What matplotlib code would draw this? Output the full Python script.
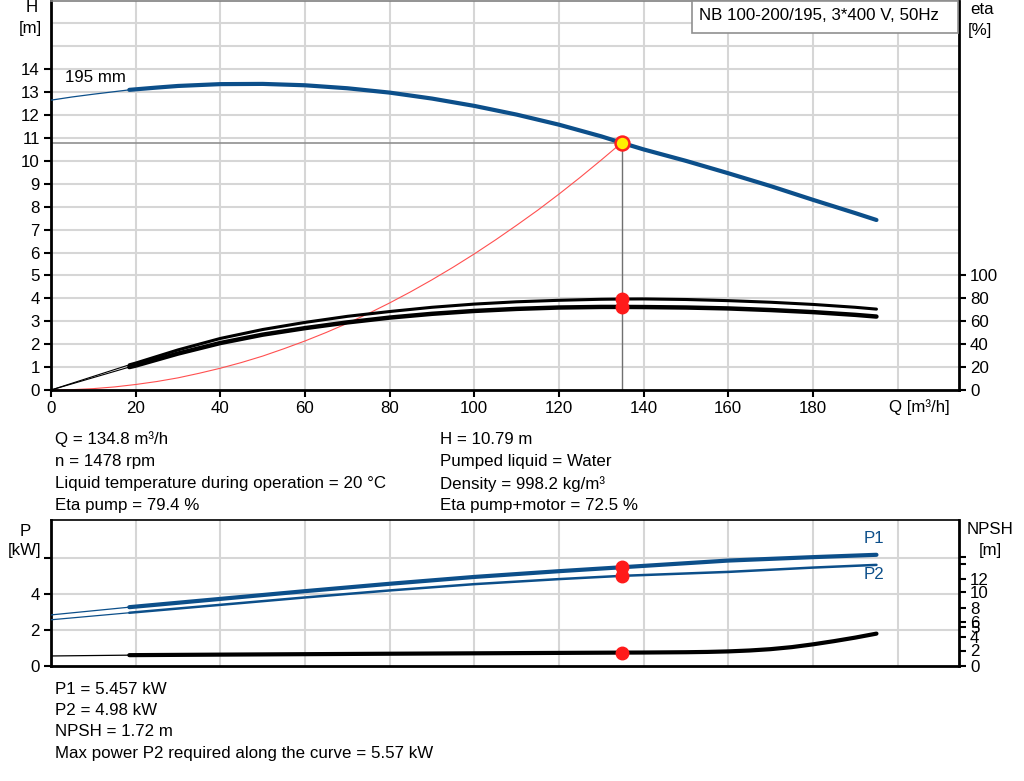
import matplotlib
matplotlib.use("Agg")
import matplotlib.pyplot as plt
import numpy as np

plt.rcParams['font.family'] = ['Liberation Sans', 'DejaVu Sans']

# ---------------- data ----------------
duty_q = 134.8
duty_h = 10.79
duty_eta_pump = 79.4
duty_eta_total = 72.5
duty_p1 = 5.457
duty_p2 = 4.98
duty_npsh = 1.72

# H curve (195 mm impeller)
h_q_thin = [0, 5, 10, 18.5]
h_thin = [12.65, 12.79, 12.91, 13.1]
h_q = [18.5, 25, 30, 40, 50, 60, 70, 80, 90, 100, 110, 120, 130, 134.8,
       140, 150, 160, 170, 180, 190, 195]
h_val = [13.1, 13.2, 13.27, 13.35, 13.36, 13.3, 13.17, 12.98, 12.72, 12.4,
         12.02, 11.58, 11.07, 10.79, 10.5, 10.0, 9.46, 8.9, 8.3, 7.72, 7.42]

# system curve
sys_q = [0, 5, 10, 15, 20, 25, 30, 35, 40, 45, 50, 55, 60, 65, 70, 75, 80, 85,
         90, 95, 100, 105, 110, 115, 120, 125, 130, 134.8]
sys_h = [0, 0.015, 0.06, 0.134, 0.24, 0.37, 0.53, 0.73, 0.95, 1.2, 1.48, 1.8,
         2.14, 2.51, 2.91, 3.34, 3.80, 4.29, 4.81, 5.36, 5.94, 6.55, 7.19, 7.85,
         8.55, 9.28, 10.04, 10.79]

# efficiencies [%]
eta_q_thin = [0, 18.5]
eta_pump_thin = [0, 22]
eta_tot_thin = [0, 20]
eta_q = [18.5, 20, 30, 40, 50, 60, 70, 80, 90, 100, 110, 120, 130, 134.8,
         140, 150, 160, 170, 180, 190, 195]
eta_pump = [22, 23.5, 35, 45, 52.8, 59, 64.3, 68.5, 72.2, 75, 77, 78.3, 79.2,
            79.4, 79.5, 79, 78, 76.6, 74.7, 72.2, 70.6]
eta_total = [20, 21.3, 31.8, 41, 48.3, 54, 59, 63.2, 66.5, 69, 70.8, 72,
             72.5, 72.5, 72.4, 72, 71.2, 69.8, 68, 65.6, 64.1]

# power [kW]
p_q_thin = [0, 18.5]
p1_thin = [2.81, 3.24]
p2_thin = [2.54, 2.93]
p_q = [18.5, 40, 60, 80, 100, 120, 134.8, 160, 180, 195]
p1_val = [3.24, 3.7, 4.13, 4.54, 4.92, 5.24, 5.457, 5.83, 6.02, 6.15]
p2_val = [2.93, 3.37, 3.78, 4.17, 4.52, 4.80, 4.98, 5.20, 5.44, 5.59]

# NPSH [m]
npsh_q_thin = [0, 18.5]
npsh_thin = [1.27, 1.38]
npsh_q = [18.5, 40, 80, 120, 134.8, 140, 150, 155, 160, 165, 170, 175, 180,
          185, 190, 195]
npsh_val = [1.38, 1.45, 1.57, 1.68, 1.72, 1.73, 1.77, 1.81, 1.88, 2.0, 2.18,
            2.45, 2.82, 3.25, 3.72, 4.25]

x_ticks = [0, 20, 40, 60, 80, 100, 120, 140, 160, 180]
h_ticks = list(range(0, 15))
eta_ticks = [0, 20, 40, 60, 80, 100]
p_ticks = [0, 2, 4, 6]
p_tick_labels = ['0', '2', '4', '']
npsh_tick_pos = [0, 2, 3.77, 5.07, 5.77, 7.64, 9.77, 11.56, 13.6, 14.5]
npsh_tick_labels = ['0', '2', '4', '5', '6', '8', '10', '12', '', '']

info_left = ["Q = 134.8 m\u00b3/h", "n = 1478 rpm",
             "Liquid temperature during operation = 20 \u00b0C", "Eta pump = 79.4 %"]
info_right = ["H = 10.79 m", "Pumped liquid = Water",
              "Density = 998.2 kg/m\u00b3", "Eta pump+motor = 72.5 %"]
info_bottom = ["P1 = 5.457 kW", "P2 = 4.98 kW", "NPSH = 1.72 m",
               "Max power P2 required along the curve = 5.57 kW"]
title = "NB 100-200/195, 3*400 V, 50Hz"

# ---------------- styling ----------------
W, H = 1024, 781
BLUE = '#0c4f8a'
GRID = '#d6d6d6'
FS = 12.2
QMAX = 214.5

fig = plt.figure(figsize=(W / 100, H / 100), dpi=100)

def fx(px):
    return px / W

def fy(py):
    return 1 - py / H

# ---------- top axes ----------
ax = fig.add_axes([fx(51), fy(390), fx(959) - fx(51), fy(0.5) - fy(390)])
ax.set_xlim(0, QMAX)
ax.set_ylim(0, 17)
for v in range(1, 17):
    ax.axhline(v, color=GRID, lw=1.5, zorder=0)
for v in range(20, 201, 20):
    ax.axvline(v, color=GRID, lw=1.5, zorder=0)

ax.plot(h_q_thin, h_thin, color=BLUE, lw=0.9, zorder=3)
ax.plot(h_q, h_val, color=BLUE, lw=3, solid_capstyle='round', zorder=3)
ax.plot(sys_q, sys_h, color='#ff5050', lw=0.8, zorder=2)
ax.plot([0, duty_q], [duty_h, duty_h], color='#909090', lw=1.2, zorder=2)
ax.plot([duty_q, duty_q], [0, duty_h], color='#707070', lw=1.0, zorder=2)
ax.plot([duty_q], [duty_h], 'o', ms=10, mfc='#ffee00', mec='#ff2020', mew=1.8, zorder=6)
ax.text(3.3, 13.65, "195 mm", fontsize=FS, ha='left', va='center')

ax.set_xticks(x_ticks)
ax.set_xticklabels([str(v) for v in x_ticks])
ax.set_yticks(h_ticks)
ax.tick_params(axis='both', direction='out', length=5, width=1.5, labelsize=FS, pad=3)
ax.tick_params(axis='x', pad=3)
for s in ['left', 'bottom']:
    ax.spines[s].set_linewidth(2)
ax.spines['top'].set_color('#808080')
ax.spines['top'].set_linewidth(1.2)
ax.spines['right'].set_visible(False)

ax2 = ax.twinx()
ax2.set_ylim(0, 340)
ax2.set_xlim(0, QMAX)
ax2.plot(eta_q_thin, eta_pump_thin, color='black', lw=0.8, zorder=3)
ax2.plot(eta_q_thin, eta_tot_thin, color='black', lw=0.8, zorder=3)
ax2.plot(eta_q, eta_pump, color='black', lw=2.2, solid_capstyle='round', zorder=3)
ax2.plot(eta_q, eta_total, color='black', lw=3.2, solid_capstyle='round', zorder=3)
ax2.plot([duty_q, duty_q], [duty_eta_pump, duty_eta_total], 'o', ms=9, color='#ff1a1a', zorder=6)
ax2.set_yticks(eta_ticks)
ax2.tick_params(axis='y', direction='out', length=5, width=1.5, labelsize=FS, pad=3)
ax2.spines['right'].set_linewidth(2)
for s in ['left', 'bottom', 'top']:
    ax2.spines[s].set_visible(False)

# x axis label at 200 position
ax.text(200 - 2, -0.4, "Q [m\u00b3/h]", fontsize=FS, ha='left', va='top')

fig.text(fx(32), fy(8), "H", fontsize=FS, ha='center', va='center')
fig.text(fx(30), fy(29), "[m]", fontsize=FS, ha='center', va='center')
fig.text(fx(982), fy(10), "eta", fontsize=FS, ha='center', va='center')
fig.text(fx(980), fy(30), "[%]", fontsize=FS, ha='center', va='center')

# title box
fig.patches.append(plt.Rectangle((fx(692), fy(33)), fx(958) - fx(692), fy(0.5) - fy(33),
                                 transform=fig.transFigure, facecolor='white',
                                 edgecolor='#909090', lw=1.2, zorder=10))
fig.text(fx(699), fy(15), title, fontsize=FS, ha='left', va='center', zorder=11)

# info text
for i, t in enumerate(info_left):
    fig.text(fx(55), fy(439 + i * 22.3), t, fontsize=FS, ha='left', va='center')
for i, t in enumerate(info_right):
    fig.text(fx(440), fy(439 + i * 22.3), t, fontsize=FS, ha='left', va='center')

# ---------- bottom axes ----------
bx = fig.add_axes([fx(51), fy(665.5), fx(959) - fx(51), fy(520) - fy(665.5)])
bx.set_xlim(0, QMAX)
bx.set_ylim(0, 145.5 / 18)
for v in [2, 4, 6]:
    bx.axhline(v, color=GRID, lw=1.5, zorder=0)
for v in range(20, 201, 20):
    bx.axvline(v, color=GRID, lw=1.5, zorder=0)
bx.plot(p_q_thin, p1_thin, color=BLUE, lw=0.9, zorder=3)
bx.plot(p_q_thin, p2_thin, color=BLUE, lw=0.9, zorder=3)
bx.plot(p_q, p1_val, color=BLUE, lw=3, solid_capstyle='round', zorder=3)
bx.plot(p_q, p2_val, color=BLUE, lw=1.8, solid_capstyle='round', zorder=3)
bx.plot([duty_q, duty_q], [duty_p1, duty_p2], 'o', ms=9, color='#ff1a1a', zorder=6)
bx.text(194.5, 7.08, "P1", color=BLUE, fontsize=FS, ha='center', va='center')
bx.text(194.5, 5.03, "P2", color=BLUE, fontsize=FS, ha='center', va='center')
bx.set_xticks(x_ticks)
bx.set_xticklabels([])
bx.tick_params(axis='x', length=0)
bx.set_yticks(p_ticks)
bx.set_yticklabels(p_tick_labels)
bx.tick_params(axis='y', direction='out', length=5, width=1.5, labelsize=FS, pad=3)
bx.spines['left'].set_linewidth(2)
bx.spines['bottom'].set_linewidth(2)
bx.spines['top'].set_linewidth(1.2)
bx.spines['right'].set_visible(False)

bx2 = bx.twinx()
bx2.set_xlim(0, QMAX)
bx2.set_ylim(0, 145.5 / 7.5)
bx2.plot(npsh_q_thin, npsh_thin, color='black', lw=0.9, zorder=3)
bx2.plot(npsh_q, npsh_val, color='black', lw=3, solid_capstyle='round', zorder=3)
bx2.plot([duty_q], [duty_npsh], 'o', ms=9, color='#ff1a1a', zorder=6)
bx2.set_yticks(npsh_tick_pos)
bx2.set_yticklabels(npsh_tick_labels)
bx2.tick_params(axis='y', direction='out', length=5, width=1.5, labelsize=FS, pad=3)
bx2.spines['right'].set_linewidth(2)
for s in ['left', 'bottom', 'top']:
    bx2.spines[s].set_visible(False)

fig.text(fx(25), fy(531), "P", fontsize=FS, ha='center', va='center')
fig.text(fx(25), fy(551), "[kW]", fontsize=FS, ha='center', va='center')
fig.text(fx(990), fy(530), "NPSH", fontsize=FS, ha='center', va='center')
fig.text(fx(990), fy(550), "[m]", fontsize=FS, ha='center', va='center')

for i, t in enumerate(info_bottom):
    fig.text(fx(55), fy(689 + i * 21.5), t, fontsize=FS, ha='left', va='center')

fig.savefig("out.png", dpi=100)
